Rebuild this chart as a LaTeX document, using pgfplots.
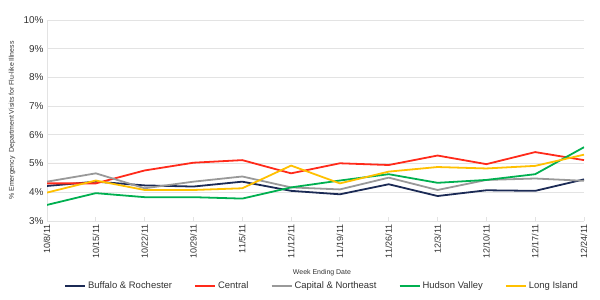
\documentclass[border=0pt]{standalone}
\usepackage{fontspec}
\setmainfont{Liberation Sans}
\usepackage{pgfplots}
\pgfplotsset{compat=1.18}
\usepackage{pgfplotstable}

\definecolor{cBuf}{HTML}{1B2A55}
\definecolor{cCen}{HTML}{FF2A1A}
\definecolor{cCap}{HTML}{999999}
\definecolor{cHud}{HTML}{00B050}
\definecolor{cLI}{HTML}{FFC000}
\definecolor{gridc}{HTML}{E3E3E3}
\definecolor{txt}{HTML}{333333}

% Weekly share of ED visits for influenza-like illness (%), weeks 0..11
\pgfplotstableread{
w  buf   cen   cap   hud   li
0  4.22  4.31  4.37  3.56  3.99
1  4.37  4.31  4.66  3.97  4.41
2  4.24  4.76  4.14  3.83  4.08
3  4.20  5.03  4.37  3.83  4.08
4  4.37  5.12  4.55  3.78  4.14
5  4.05  4.66  4.17  4.17  4.93
6  3.93  5.01  4.10  4.41  4.31
7  4.28  4.95  4.51  4.63  4.72
8  3.87  5.28  4.08  4.33  4.88
9  4.07  4.98  4.43  4.43  4.83
10 4.05  5.40  4.48  4.63  4.92
11 4.45  5.12  4.40  5.57  5.31
}\fludata

\begin{document}
\begin{tikzpicture}
\path[use as bounding box] (0,0) rectangle (600bp,300bp);
\begin{axis}[
  at={(47bp,79bp)}, anchor=south west,
  scale only axis,
  width=537bp, height=201bp,
  xmin=0, xmax=11, ymin=3, ymax=10,
  xtick={0,...,11},
  xticklabels={10/8/11,10/15/11,10/22/11,10/29/11,11/5/11,11/12/11,11/19/11,11/26/11,12/3/11,12/10/11,12/17/11,12/24/11},
  x tick label style={rotate=90, anchor=east, font=\fontsize{9}{10}\selectfont, text=txt},
  ytick={3,...,10},
  yticklabel={\pgfmathprintnumber{\tick}\%},
  y tick label style={font=\fontsize{10}{11}\selectfont, text=txt},
  /pgf/number format/assume math mode=true,
  ymajorgrids, grid style={gridc, line width=1pt},
  axis x line*=bottom, axis y line*=left,
  axis line style={gridc, line width=1pt},
  tick style={gridc, line width=1pt},
  xtick pos=bottom, ytick pos=left,
  major tick length=4bp,
  ytick style={draw=none},
  xlabel={Week Ending Date},
  xlabel style={font=\fontsize{7}{8}\selectfont, text=txt, at={(0.512,-0.255)}, anchor=center},
  ylabel={\% Emergency\ \ Department Visits for Flu-like Illness},
  ylabel style={font=\fontsize{7}{8}\selectfont, text=txt, at={(-0.065,0.5)}, anchor=center},
  legend columns=5,
  legend style={draw=none, at={(0.512,-0.323)}, anchor=center,
    font=\fontsize{9.5}{11}\selectfont, text=txt,
    /tikz/every even column/.append style={column sep=20bp}},
  legend image code/.code={\draw[#1, line width=2pt] (0bp,0bp) -- (20bp,0bp);},
  every axis plot/.append style={line width=1.8pt, line join=round},
]
\addplot[cBuf] table[x=w, y=buf] {\fludata};
\addlegendentry{Buffalo \& Rochester}
\addplot[cCen] table[x=w, y=cen] {\fludata};
\addlegendentry{Central}
\addplot[cCap] table[x=w, y=cap] {\fludata};
\addlegendentry{Capital \& Northeast}
\addplot[cHud] table[x=w, y=hud] {\fludata};
\addlegendentry{Hudson Valley}
\addplot[cLI] table[x=w, y=li] {\fludata};
\addlegendentry{Long Island}
\end{axis}
\end{tikzpicture}
\end{document}
